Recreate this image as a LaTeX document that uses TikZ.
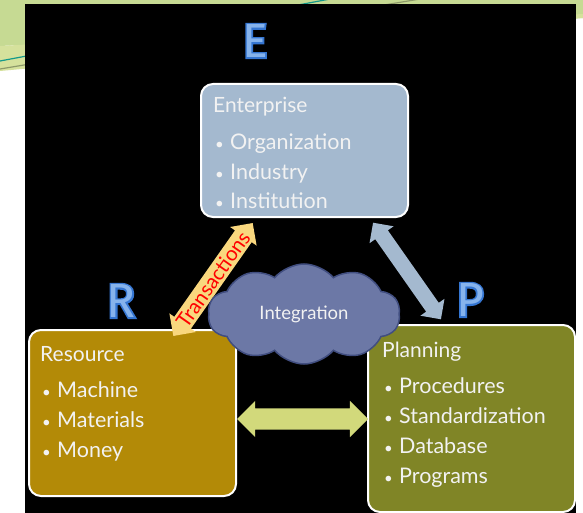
\documentclass[tikz,border=0pt]{standalone}
\usepackage{fontspec}
\setmainfont{Lato}
\newfontfamily\letterthick[FakeBold=7]{Fira Sans}
\newfontfamily\letterthin{Fira Sans}
\usetikzlibrary{shapes.symbols,shapes.arrows,calc}

\definecolor{entblue}{HTML}{A4B9CF}
\definecolor{resgold}{HTML}{B38A07}
\definecolor{planolive}{HTML}{808526}
\definecolor{cloudfill}{HTML}{6C78A6}
\definecolor{cloudline}{HTML}{414E80}
\definecolor{linkgreen}{HTML}{D2D97B}
\definecolor{linkpeach}{HTML}{F9D77E}
\definecolor{letterblue}{HTML}{3576D2}
\definecolor{letterlight}{HTML}{86B3EC}
\definecolor{slidegreen}{HTML}{C6DA93}
\definecolor{slidelime}{HTML}{D5E19C}
\definecolor{slideteal}{HTML}{14998A}
\definecolor{slideolive}{HTML}{8E9A6A}
\definecolor{boxtext}{HTML}{F2F2F2}

% blue letter with a light line running inside it
\newcommand{\inlineletter}[1]{%
  \rlap{\textcolor{letterblue}{\letterthick #1}}\textcolor{letterlight}{\letterthin #1}}

\tikzset{
  box/.style={rounded corners=12pt, draw=white, line width=2pt,
    anchor=north west, inner sep=0pt, minimum width=207pt},
  head/.style={anchor=base west, inner sep=0pt, text=boxtext,
    font=\fontsize{21}{25}\selectfont},
  item/.style={anchor=base west, inner sep=0pt, text=boxtext,
    font=\fontsize{21.5}{25}\selectfont},
  bigletter/.style={inner sep=0pt, font=\fontsize{48}{48}\selectfont},
  link/.style={double arrow, inner xsep=0pt, midway, sloped}
}

\newcommand{\bullitem}[1]{%
  \makebox[17pt][l]{\hspace{2pt}{\fontsize{15}{15}\selectfont\textbullet}}#1}

\begin{document}
\begin{tikzpicture}[x=1pt, y=-1pt]
    \useasboundingbox (0,0) rectangle (583,513);

    % Slide background
    \fill [white] (0,0) rectangle (583,513);
    \fill [slidegreen] (0,0) -- (583,0) -- (583,18) -- (0,46) -- cycle;
    \fill [slidelime] (0,46) -- (583,14) -- (583,18) -- (0,71) -- cycle;
    \draw [slideteal, line width=1.2pt] (0,61) -- (330,-1);
    \draw [slideolive, line width=1.2pt] (0,69) -- (420,-1);

    % Black panel
    \fill [black] (25,4) rectangle (576,513);

    % E, R and P
    \node [bigletter] (letE) at (255,41) {\inlineletter{E}};
    \node [bigletter] (letR) at (121,301) {\inlineletter{R}};
    \node [bigletter] (letP) at (470,300) {\inlineletter{P}};

    % Enterprise
    \node [box, fill=entblue, minimum height=133pt] (ent) at (200,83) {};
    \node [head] (ent-head) at (213,113) {Enterprise};
    \foreach \txt [count=\i] in {Organization, Industry, Institution}
      \node [item] (ent-\i) at (213,121+29*\i) {\bullitem{\txt}};

    % Resource
    \node [box, fill=resgold, minimum height=166pt] (res) at (28,329) {};
    \node [head] (res-head) at (40,361) {Resource};
    \foreach \txt [count=\i] in {Machine, Materials, Money}
      \node [item] (res-\i) at (40,367+30*\i) {\bullitem{\txt}};

    % Planning
    \node [box, fill=planolive, minimum height=187pt] (plan) at (367,324) {};
    \node [head] (plan-head) at (382,357) {Planning};
    \foreach \txt [count=\i] in {Procedures, Standardization, Database, Programs}
      \node [item] (plan-\i) at (382,363+30*\i) {\bullitem{\txt}};

    % Edges
    \path ($(res.north east)+(-63,6)$) -- ($(ent.south west)+(52,6)$)
          node [link, fill=linkpeach, minimum height=138pt, inner ysep=10pt,
                double arrow head extend=6pt] (trans) {}
          node [midway, sloped, inner sep=0pt, text=red,
                font=\fontsize{20.5}{20.5}\selectfont] (trans-text) {Transactions};
    \path ($(ent.south east)+(-35,6)$) -- ($(plan.north west)+(73,-6)$)
          node [link, fill=entblue, minimum height=118pt, inner ysep=7.5pt,
                double arrow head extend=7pt] (sync) {};
    \path ($(res.east)+(1,6)$) -- ($(plan.west)+(0,0.5)$)
          node [link, fill=linkgreen, minimum height=131pt, inner ysep=10.5pt,
                double arrow head extend=7.5pt] (flow) {};

    % Integration cloud
    \node [cloud, cloud puffs=10, cloud puff arc=100, aspect=1.9,
           fill=cloudfill, draw=cloudline, line width=1.5pt,
           minimum width=192pt, minimum height=100pt, inner sep=0pt,
           text=boxtext, font=\fontsize{18.5}{22}\selectfont]
          (integ) at (304,314) {Integration};
\end{tikzpicture}
\end{document}
